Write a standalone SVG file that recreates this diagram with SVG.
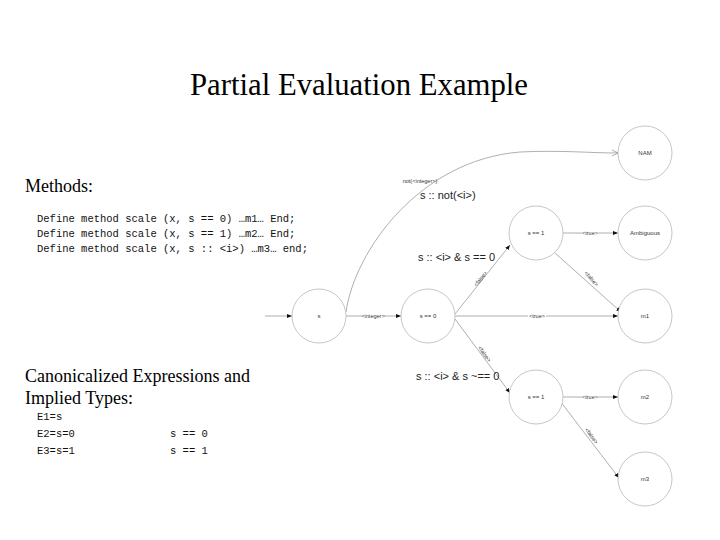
<svg xmlns="http://www.w3.org/2000/svg" width="720" height="540" viewBox="0 0 720 540">
<style>
.node circle{fill:#fff;stroke:#b8b8b8;stroke-width:0.8}
.nl{font-family:"Liberation Sans",Arial,sans-serif;font-size:6px;fill:#333;text-anchor:middle}
.edge{fill:none;stroke:#9a9a9a;stroke-width:0.8}
.el{font-family:"Liberation Sans",Arial,sans-serif;font-size:5.5px;fill:#333;text-anchor:middle}
.ann{font-family:"Liberation Sans",Arial,sans-serif;font-size:11px;fill:#222}
.h{font-family:"Liberation Serif","Times New Roman",serif;font-size:18px;fill:#000}
.code{font-family:"Liberation Mono","Courier New",monospace;font-size:10.5px;fill:#111}
</style>
<defs>
<marker id="arr" viewBox="0 0 10 10" refX="10" refY="5" markerWidth="5" markerHeight="5" orient="auto" markerUnits="userSpaceOnUse">
<path d="M0,1 L10,5 L0,9 z" fill="#111"/>
</marker>
</defs>
<rect width="720" height="540" fill="#fff"/>
<text x="359" y="95" font-family="'Liberation Serif','Times New Roman',serif" font-size="31" text-anchor="middle" textLength="338" lengthAdjust="spacingAndGlyphs" fill="#000">Partial Evaluation Example</text>
<text class="h" x="25" y="192">Methods:</text>
<text class="code" x="37" y="222">Define method scale (x, s == 0) …m1… End;</text>
<text class="code" x="37" y="237">Define method scale (x, s == 1) …m2… End;</text>
<text class="code" x="37" y="252">Define method scale (x, s :: &lt;i&gt;) …m3… end;</text>
<text class="h" x="25" y="382">Canonicalized Expressions and</text>
<text class="h" x="25" y="404">Implied Types:</text>
<text class="code" x="37" y="420">E1=s</text>
<text class="code" x="37" y="437">E2=s=0</text>
<text class="code" x="37" y="454">E3=s=1</text>
<text class="code" x="170" y="437">s == 0</text>
<text class="code" x="170" y="454">s == 1</text>
<g id="connectors">
<line class="edge" x1="265" y1="316" x2="292" y2="316" marker-end="url(#arr)"/>
<line class="edge" x1="346" y1="316" x2="401" y2="316" marker-end="url(#arr)"/>
<path class="edge" d="M346,312 C355,250 420,160 520,152 C560,150 590,153 618,153"/>
<line class="edge" x1="455" y1="316" x2="618" y2="316" marker-end="url(#arr)"/>
<line class="edge" x1="455" y1="314" x2="510" y2="245" marker-end="url(#arr)"/>
<line class="edge" x1="555" y1="253" x2="621" y2="312" marker-end="url(#arr)"/>
<line class="edge" x1="563" y1="233" x2="618" y2="233" marker-end="url(#arr)"/>
<line class="edge" x1="455" y1="319" x2="510" y2="393" marker-end="url(#arr)"/>
<line class="edge" x1="563" y1="397" x2="618" y2="397" marker-end="url(#arr)"/>
<line class="edge" x1="560" y1="401" x2="619" y2="478" marker-end="url(#arr)"/>
<rect x="362" y="313" width="22" height="6" fill="#fff"/>
<text class="el" x="373" y="318">&lt;integer&gt;</text>
<rect x="528" y="313" width="18" height="6" fill="#fff"/>
<text class="el" x="537" y="318">&lt;true&gt;</text>
<rect x="582" y="230" width="16" height="6" fill="#fff"/>
<text class="el" x="590" y="235">&lt;true&gt;</text>
<rect x="582" y="394" width="16" height="6" fill="#fff"/>
<text class="el" x="590" y="399">&lt;true&gt;</text>
<text class="el" transform="translate(482,280) rotate(-52)">&lt;false&gt;</text>
<text class="el" transform="translate(590,280) rotate(48)">&lt;false&gt;</text>
<text class="el" transform="translate(483,355) rotate(54)">&lt;false&gt;</text>
<text class="el" transform="translate(590,437) rotate(53)">&lt;false&gt;</text>
<text class="el" x="420" y="183">not(&lt;integer&gt;)</text>
<path d="M612,150 L618,153 L612,156" fill="none" stroke="#777" stroke-width="0.6"/>
</g>
<text class="ann" x="420" y="199">s :: not(&lt;i&gt;)</text>
<text class="ann" x="418" y="261">s :: &lt;i&gt; &amp; s == 0</text>
<text class="ann" x="416" y="380">s :: &lt;i&gt; &amp; s ~== 0</text>
<g id="n-s" class="node"><circle cx="319" cy="316" r="27"/><text class="nl" x="319" y="318">s</text></g>
<g id="n-s0" class="node"><circle cx="428" cy="316" r="27"/><text class="nl" x="428" y="318">s == 0</text></g>
<g id="n-s1a" class="node"><circle cx="536" cy="233" r="27"/><text class="nl" x="536" y="235">s == 1</text></g>
<g id="n-amb" class="node"><circle cx="645" cy="233" r="27"/><text class="nl" x="645" y="235">Ambiguous</text></g>
<g id="n-nam" class="node"><circle cx="645" cy="153" r="27"/><text class="nl" x="645" y="155">NAM</text></g>
<g id="n-m1" class="node"><circle cx="645" cy="316" r="27"/><text class="nl" x="645" y="318">m1</text></g>
<g id="n-s1b" class="node"><circle cx="536" cy="397" r="27"/><text class="nl" x="536" y="399">s == 1</text></g>
<g id="n-m2" class="node"><circle cx="645" cy="397" r="27"/><text class="nl" x="645" y="399">m2</text></g>
<g id="n-m3" class="node"><circle cx="645" cy="479" r="27"/><text class="nl" x="645" y="481">m3</text></g>
</svg>
